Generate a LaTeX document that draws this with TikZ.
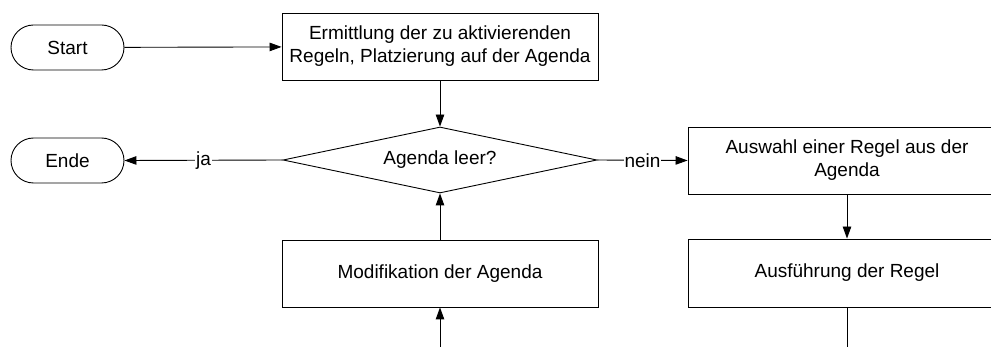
\documentclass[tikz,border=0pt]{standalone}
\usepackage{fontspec}
\setmainfont{Liberation Sans}
\usetikzlibrary{shapes.geometric,arrows.meta}
\begin{document}
\begin{tikzpicture}[x=1pt,y=-1pt,
  every node/.style={font=\fontsize{19}{23}\selectfont, align=center, inner sep=0pt},
  terminal/.style={draw, line width=0.9pt, rectangle, rounded corners=22.5pt, minimum width=113pt, minimum height=45pt},
  process/.style={draw, line width=0.9pt, rectangle, minimum width=316pt, minimum height=67pt},
  decision/.style={draw, line width=0.9pt, diamond, aspect=4.76, minimum width=314pt, minimum height=66pt},
  flow/.style={line width=0.9pt, -{Triangle[length=12pt,width=8.5pt]}},
  lbl/.style={fill=white, inner sep=1pt}]
  \clip (0,0) rectangle (991,347);

  % nodes
  \node[terminal] (start) at (67.5,47.5) {Start};
  \node[terminal] (ende) at (67.5,160.5) {Ende};
  \node[process] (ermittlung) at (440,46.5) {Ermittlung der zu aktivierenden\\Regeln, Platzierung auf der Agenda};
  \node[decision] (leer) at (440,160) {Agenda leer?};
  \node[process, minimum width=318pt] (auswahl) at (847,160.5) {Auswahl einer Regel aus der\\Agenda};
  \node[process, minimum width=318pt, minimum height=68pt] (ausfuehrung) at (847,273) {Ausführung der Regel};
  \node[process] (modifikation) at (440,273.5) {Modifikation der Agenda};

  % loose ends running off the lower edge
  \coordinate (rein) at (440,352);
  \coordinate (raus) at (847,352);

  % connectors
  \draw[flow] (start) -- (ermittlung);
  \draw[flow] (ermittlung) -- (leer);
  \draw[flow] (leer.west) -- node[lbl, pos=0.5] {ja} (ende.east);
  \draw[flow] (leer.east) -- node[lbl, pos=0.5] {nein} (auswahl.west);
  \draw[flow] (auswahl) -- (ausfuehrung);
  \draw[line width=0.9pt] (ausfuehrung.south) -- (raus);
  \draw[flow] (modifikation) -- (leer.south);
  \draw[flow] (rein) -- (modifikation.south);
\end{tikzpicture}
\end{document}
